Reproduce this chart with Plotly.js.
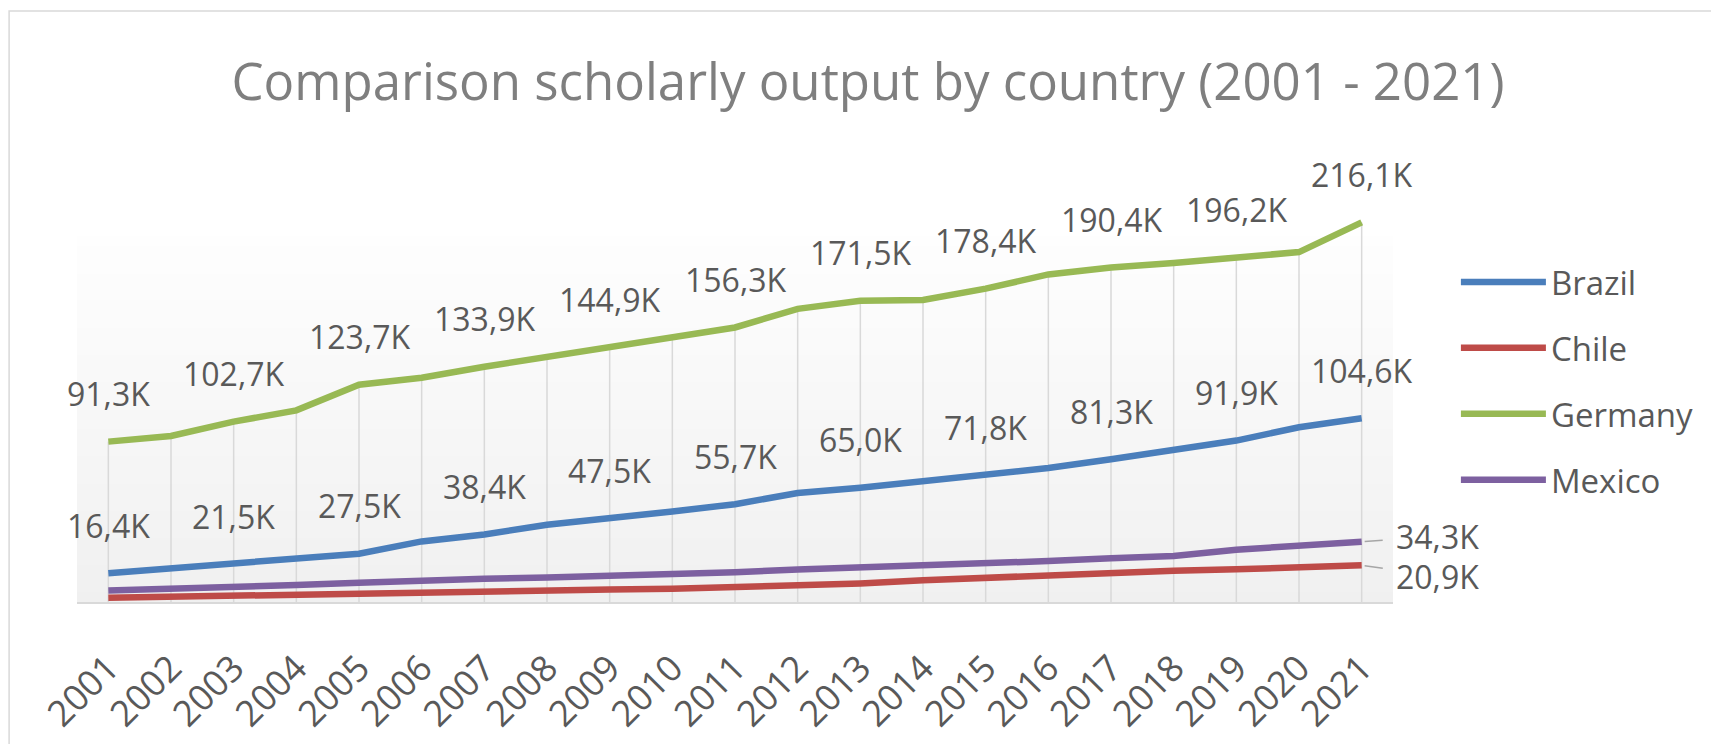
<!DOCTYPE html>
<html>
<head>
<meta charset="utf-8">
<script src="https://cdn.plot.ly/plotly-3.0.1.min.js"></script>
<style>
  html, body { margin: 0; padding: 0; background: #ffffff; }
  #chart { width: 1711px; height: 744px; }
</style>
</head>
<body>
<div id="chart"></div>
<script>
// ---- Data (values in thousands) ----
const years = ['2001','2002','2003','2004','2005','2006','2007','2008','2009','2010','2011',
               '2012','2013','2014','2015','2016','2017','2018','2019','2020','2021'];
const brazil  = [16.4, 19.2, 21.5, 24.5, 27.5, 34.5, 38.4, 44.0, 47.5, 51.5, 55.7,
                 62.0, 65.0, 68.8, 71.8, 76.3, 81.3, 86.8, 91.9, 99.5, 104.6];
const chile   = [2.4, 3.1, 3.6, 4.1, 4.7, 5.4, 6.0, 6.6, 7.1, 7.5, 8.5,
                 9.4, 10.6, 12.4, 13.8, 15.4, 16.3, 17.8, 18.6, 19.6, 20.9];
const germany = [91.3, 94.5, 102.7, 109.1, 123.7, 127.7, 133.9, 139.4, 144.9, 150.0, 156.3,
                 166.9, 171.5, 172.0, 178.4, 186.5, 190.4, 193.0, 196.2, 199.2, 216.1];
const mexico  = [6.5, 7.3, 8.7, 9.7, 11.0, 12.5, 13.3, 14.0, 14.8, 16.0, 17.0,
                 18.5, 19.5, 21.0, 22.0, 23.3, 24.9, 26.2, 29.8, 31.9, 34.3];
const seriesNames = ['Brazil', 'Chile', 'Germany', 'Mexico'];
const titleText = 'Comparison scholarly output by country (2001 - 2021)';

// ---- Styling ----
const W = 1711, H = 744;
const M = { l: 77, r: 316, t: 198, b: 142 };
const yMax = 230;
const bandTop = 208;   // top of the shaded plot band (in data units)
const colors = { Brazil: '#4a7ebb', Chile: '#be4b48', Germany: '#98b954', Mexico: '#7d60a0' };
const FONT = '"Open Sans", "Noto Sans", sans-serif';
const labelColor = '#595959';
const LBL = 32;

const fmt = v => v.toFixed(1).replace('.', ',') + 'K';

// drop lines (from highest series down to axis)
const dropX = [], dropY = [];
years.forEach((yr, i) => {
  const top = Math.max(brazil[i], chile[i], germany[i], mexico[i]);
  dropX.push(yr, yr, null);
  dropY.push(0, top, null);
});

const data = [
  { x: dropX, y: dropY, type: 'scatter', mode: 'lines',
    line: { color: '#d9d9d9', width: 1.5 }, showlegend: false, hoverinfo: 'skip' }
];
const seriesVals = { Brazil: brazil, Chile: chile, Germany: germany, Mexico: mexico };
seriesNames.forEach(name => {
  data.push({
    x: years, y: seriesVals[name], name: name, type: 'scatter', mode: 'lines',
    line: { color: colors[name], width: 6.5 }, legendgroup: name
  });
});

const annotations = [];
['Germany', 'Brazil'].forEach(name => {
  const vals = seriesVals[name];
  vals.forEach((v, i) => {
    if (i % 2 === 0) {
      annotations.push({
        x: i, y: v, xref: 'x', yref: 'y', text: fmt(v), showarrow: false,
        xanchor: 'center', yanchor: 'middle', yshift: 48,
        font: { family: FONT, size: LBL, color: labelColor }
      });
    }
  });
});
const last = years.length - 1;
[['Mexico', -5], ['Chile', 11]].forEach(([name, ay]) => {
  const v = seriesVals[name][last];
  annotations.push({
    x: last, y: v, xref: 'x', yref: 'y', text: fmt(v),
    showarrow: true, arrowhead: 0, arrowwidth: 1.5, arrowcolor: '#a6a6a6',
    ax: 76, ay: ay, startstandoff: 12, standoff: 3,
    xanchor: 'center', yanchor: 'middle',
    font: { family: FONT, size: LBL, color: labelColor }
  });
});

const plotW = W - M.l - M.r, plotH = H - M.t - M.b;

// gradient band behind the plot (top nearly white, bottom light grey)
const shapes = [];
const nBands = 40;
for (let k = 0; k < nBands; k++) {
  const t = (k + 0.5) / nBands;              // 0 bottom -> 1 top
  const c = Math.round(240 + (254 - 240) * t);
  shapes.push({
    type: 'rect', xref: 'paper', yref: 'paper', layer: 'below',
    x0: 0, x1: 1,
    y0: (bandTop / yMax) * k / nBands, y1: (bandTop / yMax) * (k + 1) / nBands + 0.002,
    line: { width: 0 }, fillcolor: `rgb(${c},${c},${c})`
  });
}
// outer chart border
shapes.push({
  type: 'rect', xref: 'paper', yref: 'paper', layer: 'below',
  x0: (9 - M.l) / plotW, x1: (W + 20 - M.l) / plotW,
  y0: (H - M.b - (H + 20)) / plotH, y1: (H - M.b - 11) / plotH,
  line: { color: '#d9d9d9', width: 1.5 }, fillcolor: 'rgba(0,0,0,0)'
});

const layout = {
  width: W, height: H,
  margin: M,
  paper_bgcolor: '#ffffff', plot_bgcolor: 'rgba(0,0,0,0)',
  font: { family: FONT, color: labelColor, size: LBL },
  title: {
    text: titleText, x: 868 / W, xref: 'container', xanchor: 'center',
    y: 1 - 82 / H, yref: 'container', yanchor: 'middle',
    font: { family: FONT, size: 51, color: '#7f7f7f' }
  },
  xaxis: {
    type: 'category', range: [-0.5, years.length - 0.5],
    showgrid: false, zeroline: false, showline: true, linecolor: '#d9d9d9', linewidth: 1.5,
    ticks: '', tickangle: -45, ticklabelstandoff: 29,
    tickfont: { family: FONT, size: 36, color: labelColor }, fixedrange: true
  },
  yaxis: {
    range: [0, yMax], visible: false, showgrid: false, zeroline: false, fixedrange: true
  },
  showlegend: true,
  legend: {
    x: (1458 - M.l) / plotW, xanchor: 'left',
    y: (H - M.b - 254) / plotH, yanchor: 'top',
    font: { family: FONT, size: 33, color: labelColor },
    itemwidth: 85,
    tracegroupgap: 20, bgcolor: 'rgba(0,0,0,0)', traceorder: 'grouped'
  },
  shapes: shapes,
  annotations: annotations,
  hovermode: false
};

Plotly.newPlot('chart', data, layout, { displayModeBar: false, staticPlot: true });
</script>
</body>
</html>
